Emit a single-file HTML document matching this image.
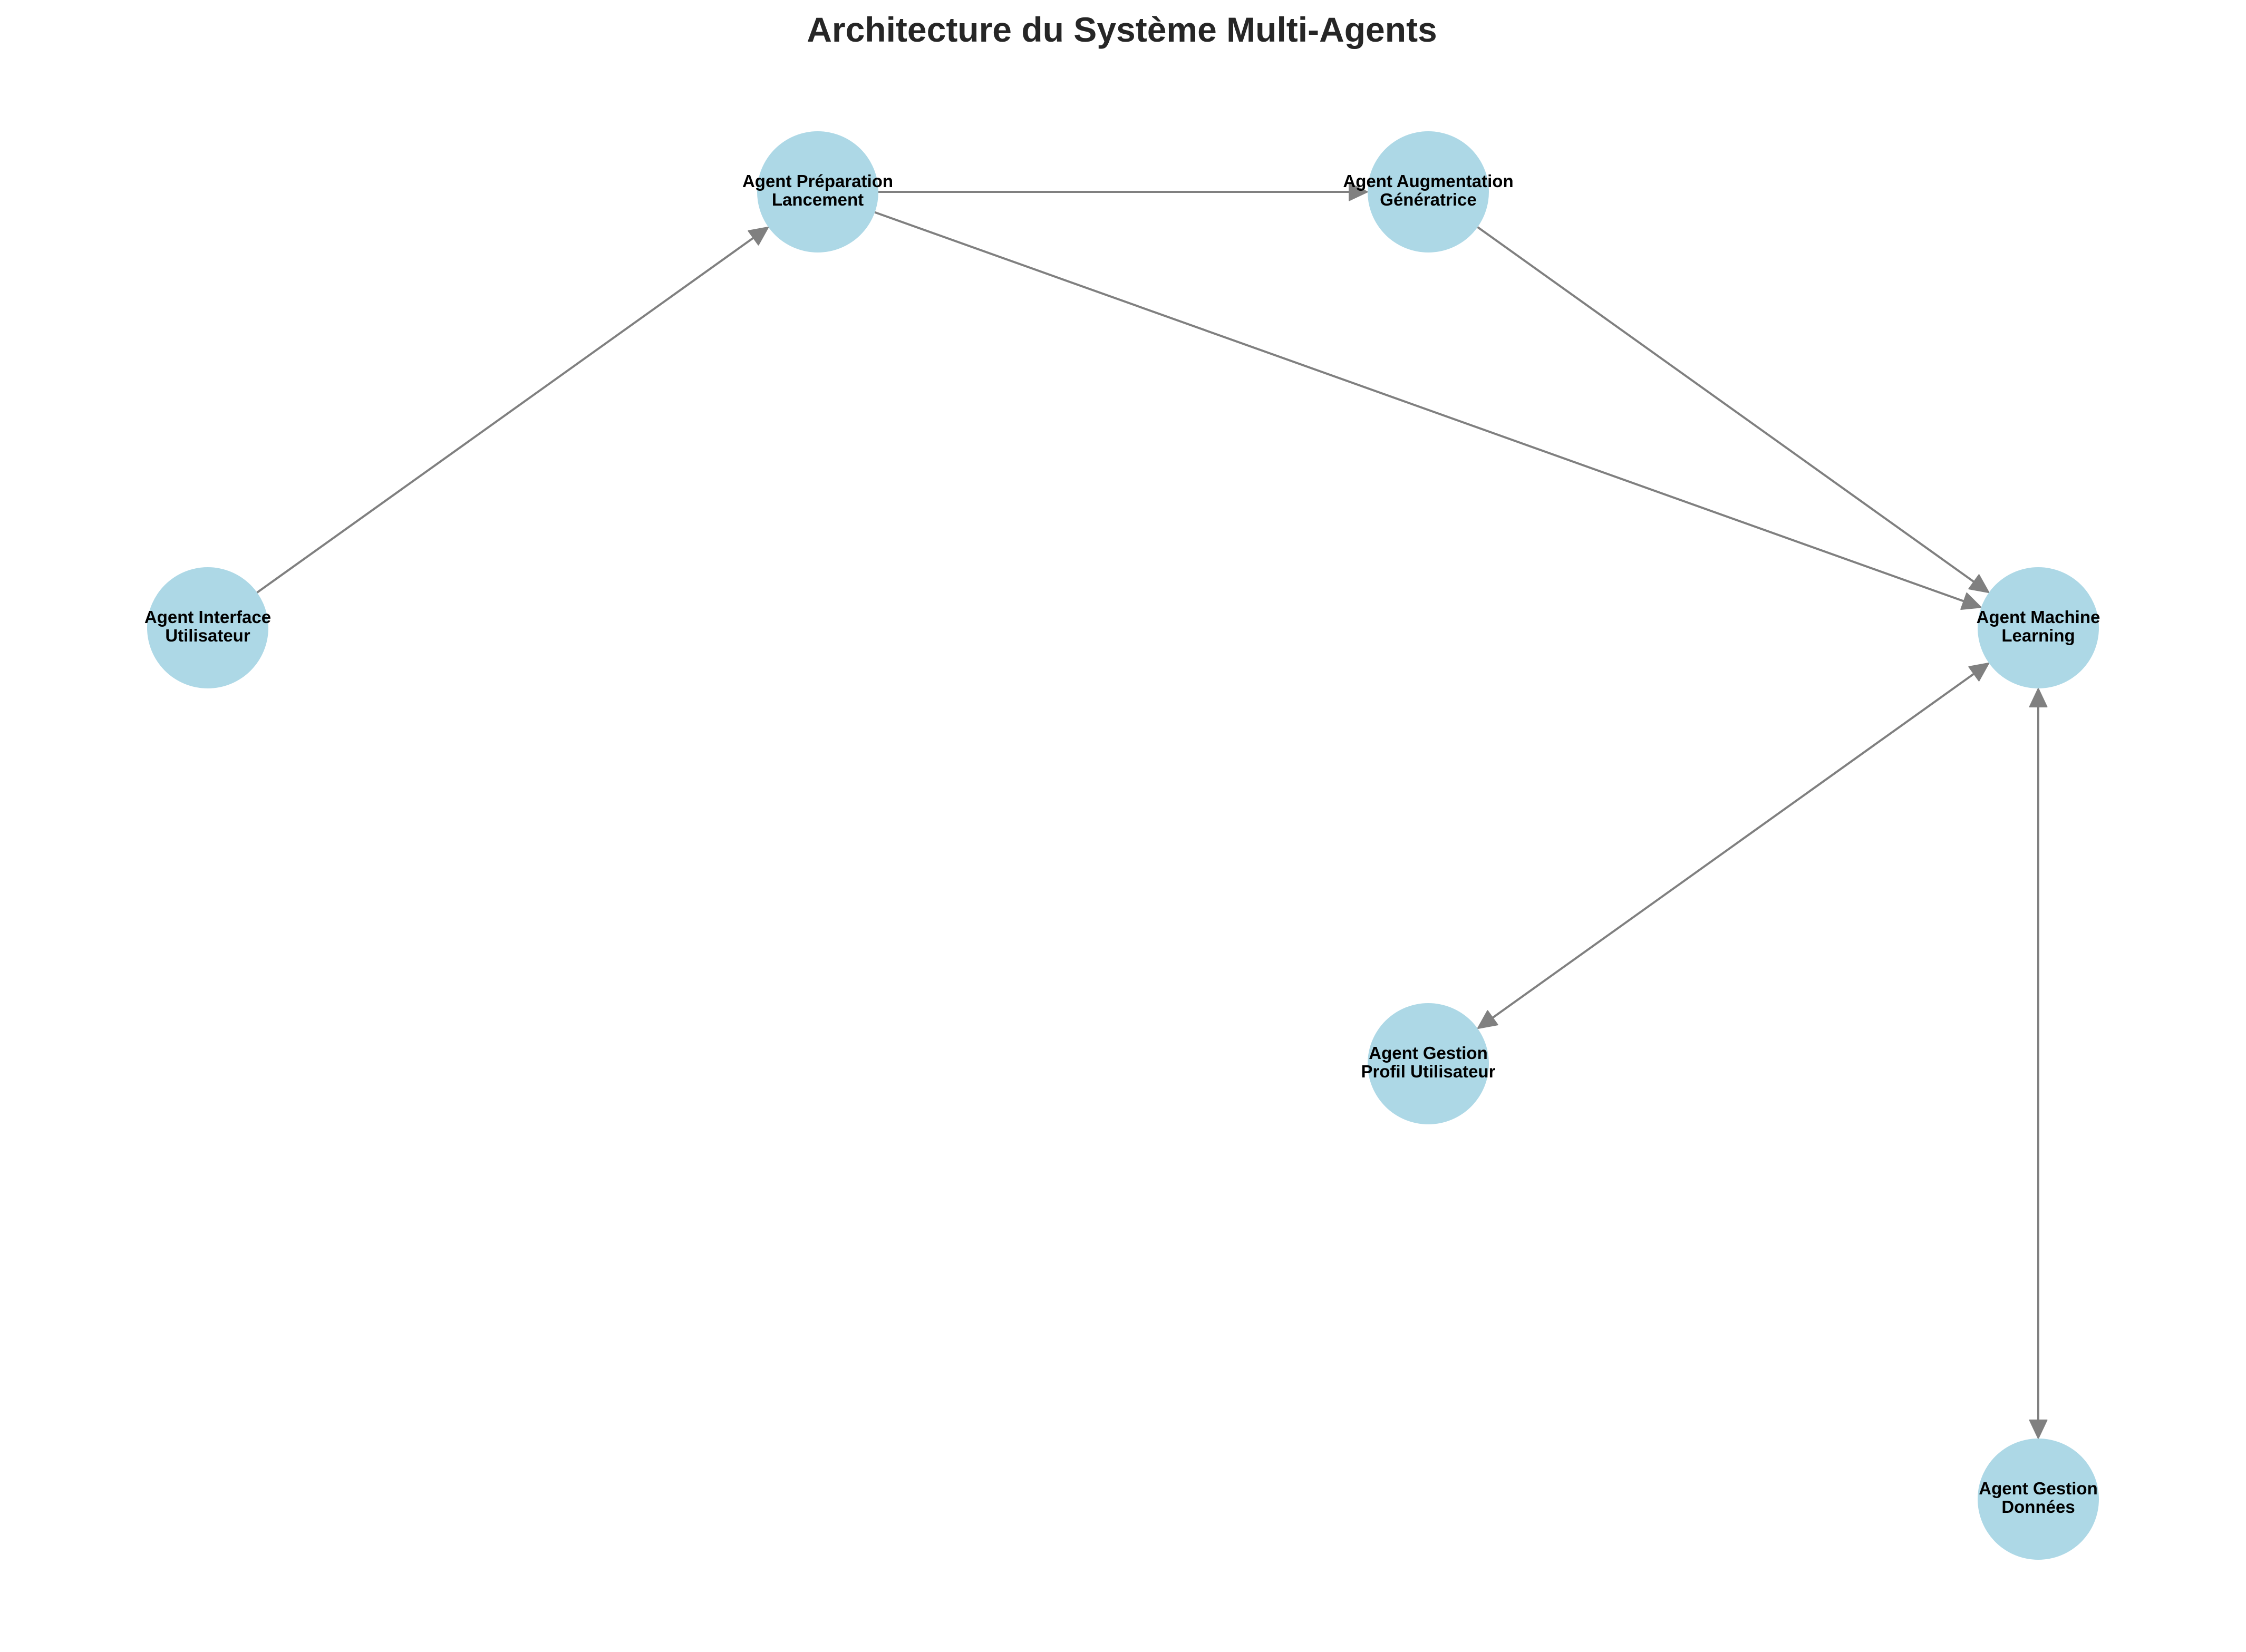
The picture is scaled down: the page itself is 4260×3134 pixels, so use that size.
<!DOCTYPE html>
<html><head><meta charset="utf-8"><style>
html,body{margin:0;padding:0;background:#fff;}
svg{display:block;}
text{font-family:"Liberation Sans",Arial,sans-serif;font-weight:bold;}
</style></head><body>
<svg width="4260" height="3134" viewBox="0 0 4260 3134" xmlns="http://www.w3.org/2000/svg">
<rect width="4260" height="3134" fill="#fff"/>
<text x="2128" y="79" font-size="66" fill="#262626" text-anchor="middle">Architecture du Système Multi-Agents</text>
<g stroke="#808080" stroke-width="4" fill="none">
<line x1="487.6" y1="1124.1" x2="1428.9" y2="451.3"/>
<line x1="1666" y1="364" x2="2559" y2="364"/>
<line x1="1659.3" y1="402.7" x2="3724.7" y2="1140.5"/>
<line x1="2802.6" y1="430.9" x2="3743.9" y2="1103.7"/>
<line x1="3743.9" y1="1278.3" x2="2831.1" y2="1930.7"/>
<line x1="3866" y1="1341" x2="3866" y2="2694"/>
</g>
<g fill="#808080" stroke="#808080" stroke-width="2" stroke-linejoin="round">
<polygon points="1457.4,430.9 1438.5,464.7 1419.3,437.9"/>
<polygon points="2594,364 2559,347.5 2559,380.5"/>
<polygon points="3757.7,1152.3 3719.2,1156.0 3730.3,1125.0"/>
<polygon points="3772.4,1124.1 3734.3,1117.1 3753.5,1090.3"/>
<polygon points="2802.6,1951.1 2840.7,1944.1 2821.5,1917.3"/>
<polygon points="3772.4,1257.9 3753.5,1291.7 3734.3,1264.9"/>
<polygon points="3866,1306 3849.5,1341 3882.5,1341"/>
<polygon points="3866,2729 3849.5,2694 3882.5,2694"/>
</g>
<g fill="#add8e6">
<circle cx="1551" cy="364" r="115"/>
<circle cx="2709" cy="364" r="115"/>
<circle cx="394" cy="1191" r="115"/>
<circle cx="3866" cy="1191" r="115"/>
<circle cx="2709" cy="2018" r="115"/>
<circle cx="3866" cy="2844" r="115"/>
</g>
<g font-size="33" fill="#000" text-anchor="middle">
<text x="1551" y="355">Agent Préparation</text><text x="1551" y="390">Lancement</text>
<text x="2709" y="355">Agent Augmentation</text><text x="2709" y="390">Génératrice</text>
<text x="394" y="1182">Agent Interface</text><text x="394" y="1217">Utilisateur</text>
<text x="3866" y="1182">Agent Machine</text><text x="3866" y="1217">Learning</text>
<text x="2709" y="2009">Agent Gestion</text><text x="2709" y="2044">Profil Utilisateur</text>
<text x="3866" y="2835">Agent Gestion</text><text x="3866" y="2870">Données</text>
</g>
</svg>
</body></html>
